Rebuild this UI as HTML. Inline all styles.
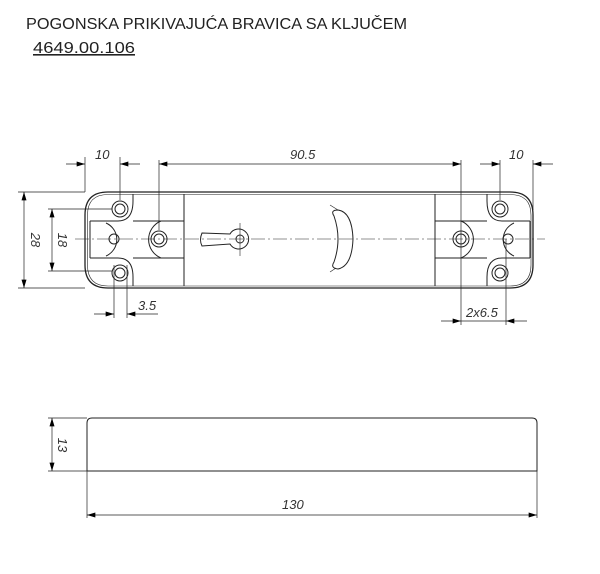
<!DOCTYPE html>
<html><head><style>
body{margin:0;background:#fff;width:600px;height:569px;overflow:hidden;font-family:"Liberation Sans",sans-serif}
svg text{font-family:"Liberation Sans",sans-serif;font-style:italic;fill:#333}
</style></head><body>
<svg width="600" height="569" viewBox="0 0 600 569" xmlns="http://www.w3.org/2000/svg">
<defs><marker id="a" viewBox="0 0 10 6" refX="10" refY="3" markerWidth="9" markerHeight="5" orient="auto-start-reverse" markerUnits="userSpaceOnUse"><path d="M0,0L10,3L0,6z" fill="#000"/></marker></defs>
<text x="26" y="29" textLength="381" lengthAdjust="spacingAndGlyphs" style="font-style:normal;font-size:16px;fill:#222">POGONSKA PRIKIVAJUĆA BRAVICA SA KLJUČEM</text>
<text x="33" y="53" textLength="102" lengthAdjust="spacingAndGlyphs" style="font-style:normal;font-size:16px;fill:#222;text-decoration:underline">4649.00.106</text>
<g stroke="#222" fill="none" stroke-width="1">
<path d="M108,192 H510 Q533,192 533,215 V265 Q533,288 510,288 H108 Q85,288 85,265 V215 Q85,192 108,192Z" stroke-width="1.3"/>
<path d="M108,194.5 H510 Q531,194.5 531,215 V265 Q531,286 510,286 H108 Q87.5,286 87.5,265 V215 Q87.5,194.5 108,194.5Z" stroke-width="0.6"/>
<line x1="133" y1="194" x2="133" y2="201"/><line x1="133" y1="277" x2="133" y2="286"/>
<path d="M90,221 H118 Q133,221 133,201"/><path d="M90,258 H118 Q133,258 133,277"/>
<line x1="90" y1="221" x2="90" y2="258"/>
<line x1="184" y1="194" x2="184" y2="286"/>
<line x1="133" y1="221" x2="184" y2="221"/><line x1="133" y1="258" x2="184" y2="258"/>
<path d="M106,223 A18,18 0 0 1 106,256"/><path d="M161,221 A20,20 0 0 0 161,258"/>
<circle cx="114" cy="239" r="5"/>
<line x1="435" y1="194" x2="435" y2="286"/>
<line x1="487" y1="194" x2="487" y2="201"/><line x1="487" y1="277" x2="487" y2="286"/>
<path d="M530,221 H502 Q487,221 487,201"/><path d="M530,258 H502 Q487,258 487,277"/>
<line x1="530" y1="221" x2="530" y2="258"/>
<line x1="435" y1="221" x2="487" y2="221"/><line x1="435" y1="258" x2="487" y2="258"/>
<path d="M461,221 A20,20 0 0 1 461,258"/><path d="M514,223 A18,18 0 0 0 514,256"/>
<circle cx="508" cy="239" r="5"/>
<g><circle cx="120" cy="209" r="8"/><circle cx="120" cy="209" r="5"/><circle cx="120" cy="273" r="8"/><circle cx="120" cy="273" r="5"/>
<circle cx="159" cy="239" r="8"/><circle cx="159" cy="239" r="5"/>
<circle cx="461" cy="239" r="8"/><circle cx="461" cy="239" r="5"/>
<circle cx="500" cy="209" r="8"/><circle cx="500" cy="209" r="5"/><circle cx="500" cy="273" r="8"/><circle cx="500" cy="273" r="5"/></g>
<path d="M202,233 L230,234 A10,10 0 1 1 230,244 L202,246 Q199,240 202,233Z"/>
<circle cx="240" cy="239" r="4"/>
<line x1="240" y1="223" x2="240" y2="256" stroke-width="0.6"/>
<path d="M338,210 Q352,212 353,239 Q352,266 338,269 Q330,268 334,262 Q342,239 334,216 Q330,210 338,210Z"/>
<line x1="330" y1="205" x2="338" y2="210" stroke-width="0.6"/><line x1="330" y1="272" x2="336" y2="268" stroke-width="0.6"/>
<line x1="75" y1="239" x2="545" y2="239" stroke-width="0.6" stroke-dasharray="14,3,2,3"/>
<g stroke-width="0.7">
<line x1="85" y1="157" x2="85" y2="192"/><line x1="120" y1="157" x2="120" y2="200"/>
<line x1="66" y1="164" x2="85" y2="164" marker-end="url(#a)"/><line x1="140" y1="164" x2="120" y2="164" marker-end="url(#a)"/>
<line x1="159" y1="160" x2="159" y2="230"/><line x1="461" y1="160" x2="461" y2="325"/>
<line x1="159" y1="164" x2="461" y2="164" marker-start="url(#a)" marker-end="url(#a)"/>
<line x1="500" y1="160" x2="500" y2="200"/><line x1="533" y1="160" x2="533" y2="210"/>
<line x1="480" y1="164" x2="500" y2="164" marker-end="url(#a)"/><line x1="553" y1="164" x2="533" y2="164" marker-end="url(#a)"/>
<line x1="18" y1="192" x2="85" y2="192"/><line x1="18" y1="288" x2="85" y2="288"/>
<line x1="24" y1="192" x2="24" y2="288" marker-start="url(#a)" marker-end="url(#a)"/>
<line x1="48" y1="209" x2="112" y2="209"/><line x1="48" y1="271" x2="112" y2="271"/>
<line x1="52" y1="209" x2="52" y2="271" marker-start="url(#a)" marker-end="url(#a)"/>
<line x1="114" y1="265" x2="114" y2="318"/><line x1="127" y1="265" x2="127" y2="318"/>
<line x1="94" y1="314" x2="114" y2="314" marker-end="url(#a)"/><line x1="158" y1="314" x2="127" y2="314" marker-end="url(#a)"/>
<line x1="506" y1="239" x2="506" y2="325"/>
<line x1="441" y1="321" x2="461" y2="321" marker-end="url(#a)"/><line x1="527" y1="321" x2="506" y2="321" marker-end="url(#a)"/>
<line x1="461" y1="321" x2="506" y2="321"/>
</g>
<path d="M87,471 V423 Q87,418 92,418 H532 Q537,418 537,423 V471 Z" stroke-width="1"/>
<g stroke-width="0.7">
<line x1="48" y1="418" x2="87" y2="418"/><line x1="48" y1="471" x2="87" y2="471"/>
<line x1="52" y1="418" x2="52" y2="471" marker-start="url(#a)" marker-end="url(#a)"/>
<line x1="87" y1="471" x2="87" y2="518"/><line x1="537" y1="471" x2="537" y2="518"/>
<line x1="87" y1="515" x2="537" y2="515" marker-start="url(#a)" marker-end="url(#a)"/>
</g>
</g>
<g font-size="13">
<text x="95" y="159">10</text>
<text x="290" y="159">90.5</text>
<text x="509" y="159">10</text>
<text x="138" y="310">3.5</text>
<text x="466" y="317">2x6.5</text>
<text x="282" y="509">130</text>
<text transform="translate(31,240) rotate(90)" text-anchor="middle">28</text>
<text transform="translate(58,240) rotate(90)" text-anchor="middle">18</text>
<text transform="translate(58,445) rotate(90)" text-anchor="middle">13</text>
</g>
</svg>
</body></html>
